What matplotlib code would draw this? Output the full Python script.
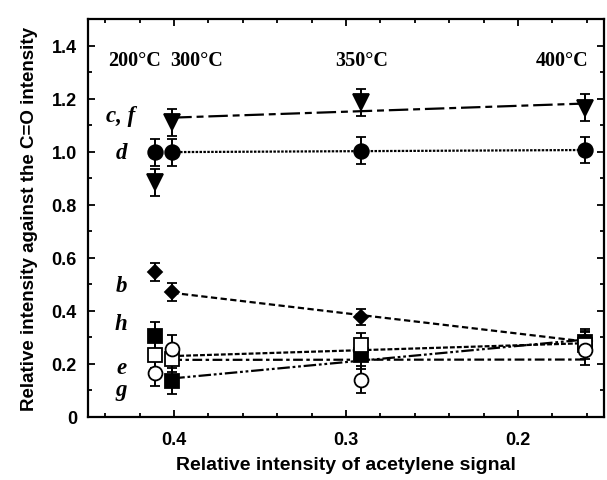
import numpy as np
import matplotlib
matplotlib.use("Agg")
import matplotlib.pyplot as plt
from matplotlib.ticker import MultipleLocator

# relative intensity of acetylene signal (200, 300, 350, 400 C)
x_sig = [0.411, 0.401, 0.291, 0.161]
temps = ["200°C", "300°C", "350°C", "400°C"]

# series
y_cf = [0.885, 1.111, 1.186, 1.167]   # filled triangles
y_d = [0.998, 0.998, 1.004, 1.006]    # filled circles
y_b = [0.547, 0.472, 0.377, 0.288]    # filled diamonds
y_h = [0.305, 0.135, 0.232, 0.283]    # filled squares
y_e = [0.235, 0.220, 0.270, 0.270]    # open squares
y_g = [0.165, 0.256, 0.141, 0.251]    # open circles

err_cf = [0.05, 0.05, 0.05, 0.05]
err_d = [0.05, 0.05, 0.05, 0.05]
err_b = [0.035, 0.035, 0.032, 0.035]
err_h = [0.055, 0.05, 0.05, 0.05]
err_e = [0.05, 0.05, 0.045, 0.05]
err_g = [0.05, 0.055, 0.05, 0.054]

labels = ["c, f", "d", "b", "h", "e", "g"]
label_y = [1.115, 0.976, 0.474, 0.333, 0.165, 0.082]

plt.rcParams['lines.scale_dashes'] = False

fig = plt.figure(figsize=(6.07, 4.81), dpi=100)
ax = fig.add_axes([0.145, 0.131, 0.850, 0.827])

series = [
    (y_cf, err_cf, 'v', 'black', 12, (0, (14, 3.5, 5, 3.5))),
    (y_d, err_d, 'o', 'black', 10.5, (0, (1.8, 1))),
    (y_b, err_b, 'D', 'black', 7.5, (0, (4.5, 2.5))),
    (y_h, err_h, 's', 'black', 9.5, (0, (9, 2, 2, 2, 2, 2))),
    (y_e, err_e, 's', 'white', 9.5, (0, (3.5, 1.5))),
    (y_g, err_g, 'o', 'white', 10, (0, (7, 2.5, 2.5, 2.5))),
]

xs = np.array(x_sig)
for ys, es, mk, fc, ms, ls in series:
    ys = np.array(ys)
    # straight fit through the 300-400 C points
    p = np.polyfit(xs[1:], ys[1:], 1)
    xf = np.array([xs[1], xs[3]])
    ax.plot(xf, np.polyval(p, xf), color='black', lw=1.6, linestyle=ls, zorder=2)
    ax.errorbar(xs, ys, yerr=es, fmt=mk, ms=ms, mfc=fc, mec='black', mew=1.3,
                ecolor='black', elinewidth=1.4, capsize=3.5, capthick=1.4, zorder=3)

# temperature annotations
temp_x = [0.4227, 0.3866, 0.2907, 0.1744]
for tx, t in zip(temp_x, temps):
    ax.text(tx, 1.346, t, ha='center', va='center', fontsize=14.5,
            fontweight='bold', family='Liberation Serif')

for lab, ly in zip(labels, label_y):
    ax.text(0.4308, ly, lab, ha='center', va='baseline', fontsize=16.5,
            fontweight='bold', fontstyle='italic', family='Liberation Serif')

ax.set_xlim(0.45, 0.15)
ax.set_ylim(0, 1.5)
ax.xaxis.set_major_locator(MultipleLocator(0.1))
ax.xaxis.set_minor_locator(MultipleLocator(0.02))
ax.yaxis.set_major_locator(MultipleLocator(0.2))
ax.yaxis.set_minor_locator(MultipleLocator(0.1))
ax.set_xticks([0.4, 0.3, 0.2])
ax.set_xticklabels(["0.4", "0.3", "0.2"])
ax.set_yticks([0, 0.2, 0.4, 0.6, 0.8, 1.0, 1.2, 1.4])
ax.set_yticklabels(["0", "0.2", "0.4", "0.6", "0.8", "1.0", "1.2", "1.4"])

ax.tick_params(which='both', direction='in', top=True, right=True, width=1.3)
ax.tick_params(which='major', length=5)
ax.tick_params(which='minor', length=3)
for lab in ax.get_xticklabels() + ax.get_yticklabels():
    lab.set_fontweight('bold')
    lab.set_fontsize(13)
    lab.set_family('Liberation Sans')
ax.tick_params(axis='x', pad=10)
ax.tick_params(axis='y', pad=8)
for s in ax.spines.values():
    s.set_linewidth(1.6)

ax.set_xlabel("Relative intensity of acetylene signal", fontsize=14,
              fontweight='bold', family='Liberation Sans', labelpad=6)
ax.set_ylabel("Relative intensity against the C=O intensity", fontsize=13.5,
              fontweight='bold', family='Liberation Sans', labelpad=10)

fig.savefig("out.png", dpi=100)
